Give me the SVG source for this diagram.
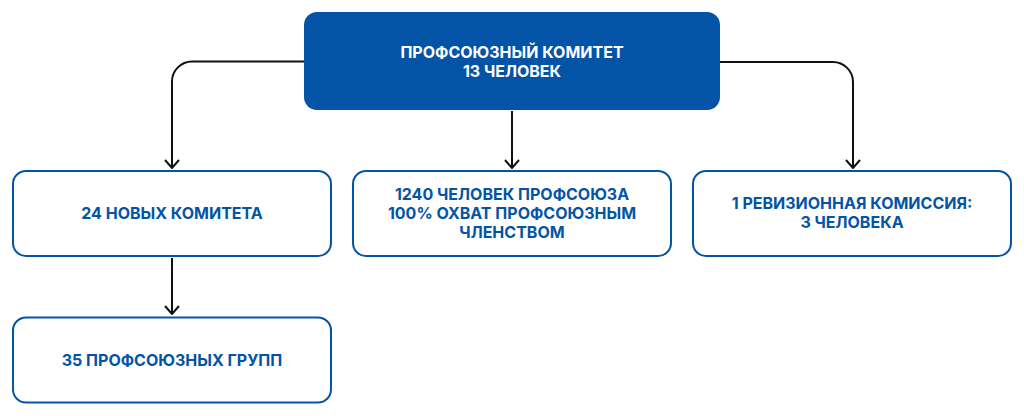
<svg xmlns="http://www.w3.org/2000/svg" width="1024" height="416" viewBox="0 0 1024 416">
<defs>
<marker id="arr" viewBox="0 0 10 16" refX="9" refY="8" markerWidth="10" markerHeight="16" markerUnits="userSpaceOnUse" orient="auto">
<path d="M1,1 L9,8 L1,15" fill="none" stroke="#111" stroke-width="2"/>
</marker>
<style>
.box{fill:#fff;stroke:#0454A5;stroke-width:2}
.top{fill:#0354A6}
.t{font-family:Inter,"Noto Sans",sans-serif;font-weight:700;font-size:16px;fill:#0454A5;text-anchor:middle}
.tw{fill:#fff}
.c{fill:none;stroke:#111;stroke-width:2}
</style>
</defs>
<rect width="1024" height="416" fill="#fff"/>
<g id="connectors">
<path class="c" d="M304,61.5 H192 A20,20 0 0 0 172,81.5 V168" marker-end="url(#arr)"/>
<path class="c" d="M720,62 H833 A20,20 0 0 1 853,82 V168" marker-end="url(#arr)"/>
<path class="c" d="M512,111 V168" marker-end="url(#arr)"/>
<path class="c" d="M172,258 V314" marker-end="url(#arr)"/>
</g>
<g id="n-top">
<rect class="top" x="304" y="12" width="416" height="98" rx="13"/>
<text class="t tw" x="512" y="57.5">ПРОФСОЮЗНЫЙ КОМИТЕТ</text>
<text class="t tw" x="512" y="76.5">13 ЧЕЛОВЕК</text>
</g>
<g id="n-left">
<rect class="box" x="13" y="171" width="318" height="85" rx="13"/>
<text class="t" x="172" y="219.3">24 НОВЫХ КОМИТЕТА</text>
</g>
<g id="n-mid">
<rect class="box" x="353" y="171" width="318" height="85" rx="13"/>
<text class="t" x="512" y="200">1240 ЧЕЛОВЕК ПРОФСОЮЗА</text>
<text class="t" x="512" y="219">100% ОХВАТ ПРОФСОЮЗНЫМ</text>
<text class="t" x="512" y="237.5">ЧЛЕНСТВОМ</text>
</g>
<g id="n-right">
<rect class="box" x="693" y="171" width="318" height="85" rx="13"/>
<text class="t" x="852" y="209">1 РЕВИЗИОННАЯ КОМИССИЯ:</text>
<text class="t" x="852" y="228">3 ЧЕЛОВЕКА</text>
</g>
<g id="n-bottom">
<rect class="box" x="13" y="317.5" width="318" height="85" rx="13"/>
<text class="t" x="172" y="365.5">35 ПРОФСОЮЗНЫХ ГРУПП</text>
</g>
</svg>
